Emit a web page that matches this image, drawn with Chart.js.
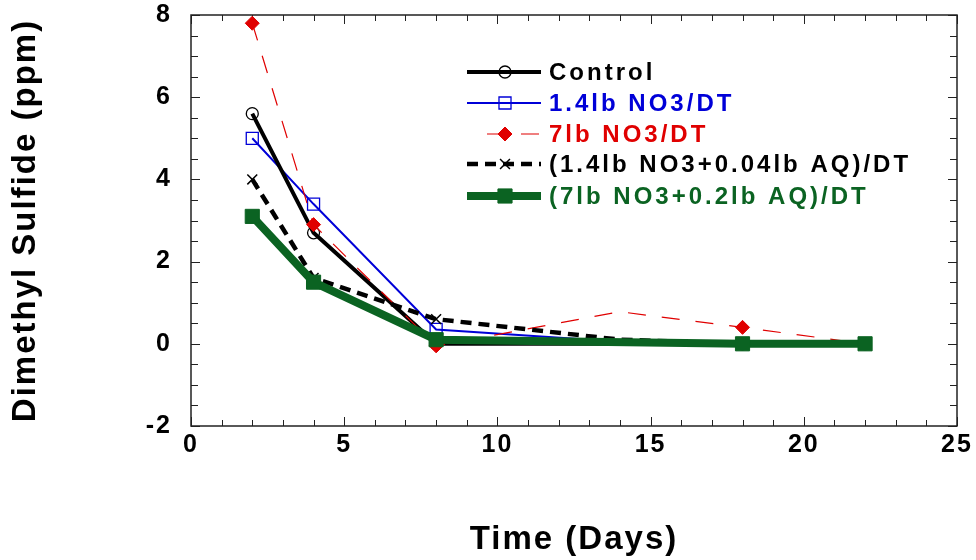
<!DOCTYPE html>
<html>
<head>
<meta charset="utf-8">
<script src="https://cdn.jsdelivr.net/npm/chart.js@4.4.1/dist/chart.umd.min.js"></script>
<style>
    html, body { margin: 0; padding: 0; background: #fff; }
    #wrap { width: 976px; height: 560px; }
</style>
</head>
<body>
<div id="wrap"><canvas id="chart" width="976" height="560"></canvas></div>
<script>
/* ======================
   DATA
====================== */
const seriesNames = [
    "Control",
    "1.4lb NO3/DT",
    "7lb NO3/DT",
    "(1.4lb NO3+0.04lb AQ)/DT",
    "(7lb NO3+0.2lb AQ)/DT"
];

const controlDays = [2, 4, 8, 18, 22];
const controlDms  = [5.6, 2.7, 0.0, 0.0, 0.0];

const no3LowDays = [2, 4, 8, 14];
const no3LowDms  = [5.0, 3.4, 0.35, 0.05];

const no3HighDays = [2, 4, 8, 14, 18, 22];
const no3HighDms  = [7.8, 2.9, -0.05, 0.78, 0.4, 0.0];

const aqLowDays = [2, 4, 8, 14, 18];
const aqLowDms  = [4.0, 1.6, 0.6, 0.1, 0.0];

const aqHighDays = [2, 4, 8, 18, 22];
const aqHighDms  = [3.1, 1.5, 0.1, 0.0, 0.0];

const xTicks = [0, 5, 10, 15, 20, 25];
const yTicks = [-2, 0, 2, 4, 6, 8];

const pts = (xs, ys) => xs.map((d, i) => ({ x: d, y: ys[i] }));

const colors = {
    black: "#000000",
    blue: "#0000d8",
    red: "#e00000",
    green: "#0b6322"
};

/* ======================
   FRAME + INSIDE TICKS
====================== */
const frameTicks = {
    id: "frameTicks",
    beforeDraw(chart) {
        chart.ctx.letterSpacing = "2px";
    },
    beforeDatasetsDraw(chart) {
        const { ctx, chartArea: a, scales: { x, y } } = chart;
        ctx.save();
        ctx.letterSpacing = "0px";
        ctx.strokeStyle = "#222";
        ctx.lineWidth = 1;
        ctx.beginPath();
        for (let v = xTicks[0]; v <= xTicks[xTicks.length - 1]; v += 1) {
            const px = Math.round(x.getPixelForValue(v)) + 0.5;
            const len = v % 5 === 0 ? 9 : 6;
            ctx.moveTo(px, a.bottom); ctx.lineTo(px, a.bottom - len);
            ctx.moveTo(px, a.top); ctx.lineTo(px, a.top + len);
        }
        for (let v = yTicks[0]; v <= yTicks[yTicks.length - 1]; v += 0.5) {
            const py = Math.round(y.getPixelForValue(v)) + 0.5;
            const len = v % 2 === 0 ? 9 : 7;
            ctx.moveTo(a.left, py); ctx.lineTo(a.left + len, py);
            ctx.moveTo(a.right, py); ctx.lineTo(a.right - len, py);
        }
        ctx.stroke();
        ctx.lineWidth = 1.5;
        ctx.strokeRect(a.left, a.top, a.right - a.left, a.bottom - a.top);
        ctx.restore();
    }
};

/* ======================
   LEGEND (inside plot)
====================== */
const insideLegend = {
    id: "insideLegend",
    afterDraw(chart) {
        const ctx = chart.ctx;
        const rowY = [72, 103, 134, 164, 196];
        ctx.save();
        chart.data.datasets.forEach((ds, i) => {
            const yy = rowY[i];
            const x0 = ds.legendStart || 467;
            ctx.strokeStyle = ds.borderColor;
            ctx.lineWidth = ds.borderWidth;
            ctx.setLineDash(ds.borderDash || []);
            ctx.beginPath();
            ctx.moveTo(x0, yy);
            ctx.lineTo(541, yy);
            ctx.stroke();
            ctx.setLineDash([]);
            ctx.fillStyle = ds.pointBackgroundColor;
            ctx.strokeStyle = ds.pointBorderColor;
            ctx.lineWidth = ds.pointBorderWidth;
            Chart.helpers.drawPoint(ctx, {
                pointStyle: ds.pointStyle,
                radius: Math.max(...[].concat(ds.pointRadius)),
                rotation: 0,
                borderWidth: ds.pointBorderWidth
            }, 505, yy);

            ctx.letterSpacing = "3px";
            ctx.font = 'bold 24px "Liberation Sans", Arial, sans-serif';
            ctx.textBaseline = "middle";
            ctx.textAlign = "left";
            ctx.fillStyle = ds.textColor;
            ctx.fillText(ds.label, 549, yy + 1);
        });
        ctx.restore();
    }
};

/* ======================
   CHART
====================== */
const tickFont = { family: '"Liberation Sans", Arial, sans-serif', size: 25, weight: "bold" };
const titleFont = { family: '"Liberation Sans", Arial, sans-serif', size: 33, weight: "bold" };

new Chart(document.getElementById("chart"), {
    type: "line",
    data: {
        datasets: [
            {
                label: seriesNames[0],
                data: pts(controlDays, controlDms),
                borderColor: colors.black,
                borderWidth: 4,
                pointStyle: "circle",
                pointRadius: 6,
                pointBorderWidth: 1.3,
                pointBorderColor: colors.black,
                pointBackgroundColor: "rgba(255,255,255,0)",
                textColor: colors.black,
                order: 4
            },
            {
                label: seriesNames[1],
                data: pts(no3LowDays, no3LowDms),
                borderColor: colors.blue,
                borderWidth: 2,
                pointStyle: "rect",
                pointRadius: [8.5, 8.5, 8.5, 0],
                pointBorderWidth: 1.3,
                pointBorderColor: colors.blue,
                pointBackgroundColor: "rgba(255,255,255,0)",
                textColor: colors.blue,
                order: 5
            },
            {
                label: seriesNames[2],
                data: pts(no3HighDays, no3HighDms),
                borderColor: colors.red,
                borderWidth: 1.2,
                borderDash: [18, 16],
                pointStyle: "rectRot",
                pointRadius: [7, 7, 7, 0, 7, 0],
                pointBorderWidth: 1,
                pointBorderColor: colors.red,
                pointBackgroundColor: colors.red,
                textColor: colors.red,
                legendStart: 487,
                order: 3
            },
            {
                label: seriesNames[3],
                data: pts(aqLowDays, aqLowDms),
                borderColor: colors.black,
                borderWidth: 4.5,
                borderDash: [11, 7],
                pointStyle: "crossRot",
                pointRadius: [7, 7, 7, 0, 0],
                pointBorderWidth: 1.5,
                pointBorderColor: colors.black,
                pointBackgroundColor: colors.black,
                textColor: colors.black,
                order: 2
            },
            {
                label: seriesNames[4],
                data: pts(aqHighDays, aqHighDms),
                borderColor: colors.green,
                borderWidth: 8,
                pointStyle: "rect",
                pointRadius: 10,
                pointBorderWidth: 1,
                pointBorderColor: colors.green,
                pointBackgroundColor: colors.green,
                textColor: colors.green,
                order: 1
            }
        ]
    },
    options: {
        responsive: false,
        animation: false,
        devicePixelRatio: 1,
        layout: { padding: { top: 15, right: 19, left: 0, bottom: 0 } },
        elements: { line: { tension: 0, fill: false } },
        plugins: {
            legend: { display: false },
            tooltip: { enabled: false }
        },
        scales: {
            x: {
                type: "linear",
                min: xTicks[0],
                max: xTicks[xTicks.length - 1],
                afterBuildTicks: s => { s.ticks = xTicks.map(v => ({ value: v })); },
                afterFit: s => { s.height = 134; s.paddingLeft = 0; s.paddingRight = 0; },
                grid: { display: false, drawTicks: false },
                border: { display: false },
                ticks: { color: "#000", font: tickFont, padding: 4, maxRotation: 0 },
                title: {
                    display: true,
                    text: "Time (Days)",
                    color: "#000",
                    font: titleFont,
                    padding: { top: 0, bottom: 0 }
                }
            },
            y: {
                min: yTicks[0],
                max: yTicks[yTicks.length - 1],
                afterBuildTicks: s => { s.ticks = yTicks.map(v => ({ value: v })); },
                afterFit: s => { s.width = 191; s.paddingTop = 0; s.paddingBottom = 0; },
                grid: { display: false, drawTicks: false },
                border: { display: false },
                ticks: { color: "#000", font: tickFont, padding: 19 },
                title: {
                    display: true,
                    text: "Dimethyl Sulfide (ppm)",
                    color: "#000",
                    font: titleFont,
                    padding: { top: 6, bottom: 0 }
                }
            }
        }
    },
    plugins: [frameTicks, insideLegend]
});
</script>
</body>
</html>
